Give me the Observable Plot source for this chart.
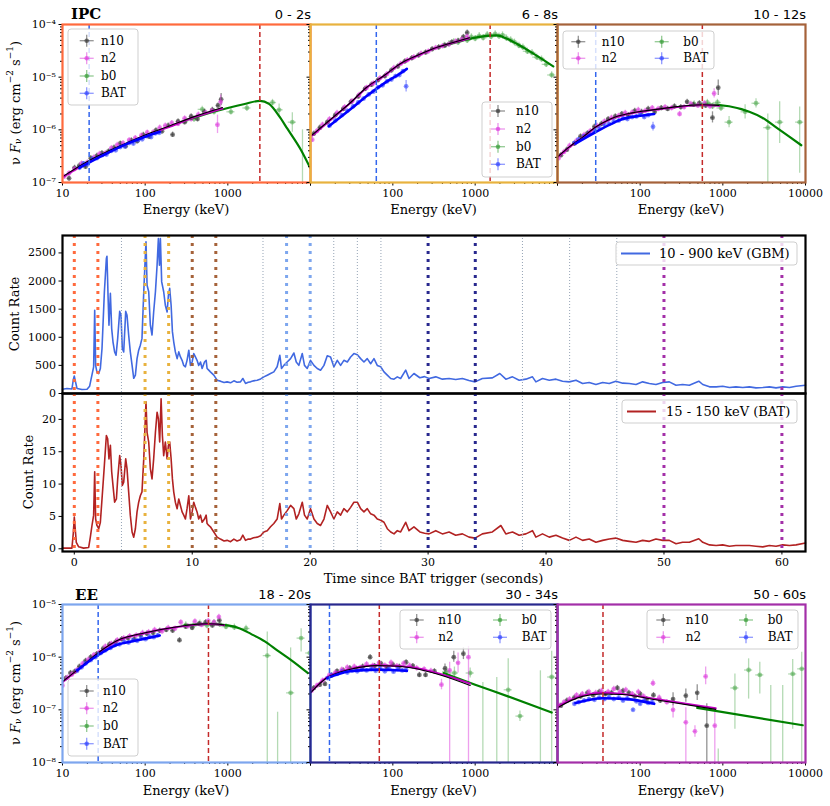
<!DOCTYPE html>
<html><head><meta charset="utf-8">
<script src="https://cdn.jsdelivr.net/npm/d3@7"></script>
<script src="https://cdn.jsdelivr.net/npm/@observablehq/plot@0.6"></script>
<style>
body{margin:0;background:#fff;}
#root{position:relative;width:830px;height:806px;overflow:hidden;font-family:"DejaVu Serif",serif;}
#root svg{position:absolute;overflow:visible;}
</style></head><body><div id="root"></div>
<script>
// ---------- light curves (time s, count rate) ----------
const gbmCurve = [[-1,75],[-0.62,89],[-0.2,80],[-0.08,250],[0,310],[0.11,200],[0.23,90],[0.65,70],[1.08,75],[1.3,130],[1.5,330],[1.64,475],[1.73,1480],[1.81,500],[1.92,380],[2.07,355],[2.21,445],[2.35,800],[2.55,1800],[2.72,2400],[2.77,2440],[2.86,1750],[2.94,1215],[3.06,1780],[3.17,1155],[3.28,920],[3.42,740],[3.54,680],[3.68,980],[3.85,1460],[3.96,1390],[4.07,800],[4.19,740],[4.36,1460],[4.47,1390],[4.61,1040],[4.75,740],[4.9,500],[5.04,270],[5.18,326],[5.32,620],[5.46,770],[5.6,860],[5.74,980],[5.89,1810],[6.0,2340],[6.08,2700],[6.17,1925],[6.31,1810],[6.45,1215],[6.59,1040],[6.73,1450],[6.88,1810],[7.02,2280],[7.13,2755],[7.22,2280],[7.3,2755],[7.41,1985],[7.58,1810],[7.72,1570],[7.87,1450],[7.98,1750],[8.09,1870],[8.21,1570],[8.32,1100],[8.43,920],[8.57,740],[8.72,620],[8.86,740],[9.0,650],[9.14,590],[9.28,500],[9.42,475],[9.56,590],[9.71,770],[9.85,500],[9.99,560],[10.13,710],[10.27,650],[10.41,590],[10.55,500],[10.7,560],[10.84,445],[11.04,560],[11.18,590],[11.26,445],[11.4,415],[11.54,385],[11.83,326],[12.11,237],[12.39,220],[12.7,195],[12.96,207],[13.25,190],[13.53,225],[13.8,200],[14.09,207],[14.29,267],[14.52,178],[14.75,200],[14.94,207],[15.2,225],[15.51,237],[15.8,260],[16.07,296],[16.36,326],[16.64,356],[16.92,385],[17.2,475],[17.43,680],[17.57,445],[17.77,500],[18.05,560],[18.34,620],[18.62,720],[18.82,560],[19.04,500],[19.33,710],[19.52,500],[19.75,445],[20.03,590],[20.32,500],[20.6,445],[20.88,415],[21.17,500],[21.45,670],[21.73,650],[22.01,475],[22.3,590],[22.58,500],[22.86,590],[23.15,560],[23.43,650],[23.71,710],[24.0,690],[24.28,620],[24.56,560],[24.84,620],[25.13,530],[25.41,620],[25.69,500],[25.98,475],[26.26,385],[26.54,326],[26.83,267],[27.11,255],[27.39,296],[27.67,267],[28.1,415],[28.38,267],[28.8,356],[29.3,280],[29.7,300],[30.08,267],[30.65,296],[31.21,255],[31.78,267],[32.34,249],[32.91,267],[33.47,231],[33.98,207],[34.6,267],[35.45,278],[36.08,356],[36.59,255],[37.16,296],[37.72,237],[38.29,255],[38.85,296],[39.14,207],[39.7,267],[40.27,237],[40.84,255],[41.4,219],[41.97,207],[42.54,237],[43.1,178],[43.66,196],[44.23,160],[44.8,196],[45.36,178],[45.92,219],[46.5,184],[47.06,178],[47.63,160],[48.19,207],[48.76,178],[49.32,160],[49.89,196],[50.45,207],[51.02,148],[51.58,160],[52.15,148],[52.95,219],[53.29,160],[53.86,118],[54.42,118],[54.98,130],[55.55,107],[56.1,118],[56.68,107],[57.24,118],[57.8,100],[58.38,107],[58.94,118],[59.5,100],[60.07,118],[60.64,107],[61.2,130],[62,148]];
const batCurve = [[-1,0.1],[-0.2,0.1],[-0.08,2.5],[0,4.9],[0.17,1.0],[0.37,0.3],[0.79,0.1],[1.22,0.2],[1.36,1.8],[1.5,3.6],[1.64,5.2],[1.73,11.9],[1.81,4.6],[1.92,3.6],[2.07,3.1],[2.21,4.1],[2.35,7.7],[2.55,12.9],[2.72,17.5],[2.83,17.0],[2.94,13.9],[3.06,16.0],[3.17,11.9],[3.28,9.8],[3.42,7.2],[3.57,7.7],[3.68,10.8],[3.85,14.4],[3.96,12.9],[4.07,9.8],[4.19,10.3],[4.36,13.9],[4.47,12.4],[4.61,8.8],[4.75,5.2],[4.9,2.6],[5.04,1.8],[5.18,3.1],[5.32,5.7],[5.46,7.2],[5.6,8.2],[5.74,8.8],[5.89,13.9],[6.0,19.1],[6.08,22.7],[6.17,18.0],[6.31,16.5],[6.45,12.4],[6.59,10.8],[6.73,13.9],[6.88,18.0],[7.02,21.1],[7.13,20.1],[7.24,16.5],[7.36,23.2],[7.47,17.5],[7.58,14.4],[7.72,16.5],[7.87,13.9],[7.98,16.0],[8.09,16.5],[8.21,13.9],[8.32,10.8],[8.43,8.8],[8.57,7.2],[8.72,6.2],[8.86,7.7],[9.0,6.7],[9.14,5.7],[9.28,5.2],[9.42,4.6],[9.56,6.2],[9.71,8.2],[9.85,4.6],[9.99,5.7],[10.13,7.2],[10.27,6.4],[10.41,5.7],[10.55,4.6],[10.7,5.2],[10.84,4.1],[11.04,4.6],[11.18,5.2],[11.26,3.9],[11.4,3.6],[11.54,3.4],[11.83,2.6],[12.11,1.8],[12.39,1.5],[12.7,1.2],[12.96,1.3],[13.25,1.1],[13.53,1.5],[13.8,1.2],[14.09,1.4],[14.29,2.1],[14.52,1.3],[14.75,1.5],[14.94,1.5],[15.2,1.7],[15.51,1.8],[15.8,2.0],[16.07,2.6],[16.36,2.8],[16.64,3.4],[16.92,3.9],[17.2,4.6],[17.43,7.0],[17.57,4.6],[17.77,5.2],[18.05,5.9],[18.34,6.7],[18.62,6.2],[18.82,4.6],[19.04,5.4],[19.33,7.2],[19.52,5.2],[19.75,4.6],[20.03,6.2],[20.32,4.6],[20.6,3.9],[20.88,3.6],[21.17,4.6],[21.45,6.7],[21.73,5.7],[22.01,4.6],[22.3,5.7],[22.58,5.2],[22.86,6.2],[23.15,5.7],[23.43,6.4],[23.71,7.2],[24.0,7.2],[24.28,6.2],[24.56,5.7],[24.84,6.2],[25.13,5.4],[25.41,5.2],[25.69,4.6],[25.98,4.4],[26.26,4.1],[26.54,3.1],[26.83,2.6],[27.11,2.3],[27.39,2.8],[27.67,2.6],[28.1,4.1],[28.38,2.8],[28.8,3.4],[29.3,2.6],[29.7,2.4],[30.08,2.3],[30.65,2.8],[31.21,2.3],[31.78,2.6],[32.34,2.1],[32.91,2.3],[33.47,1.8],[33.98,1.65],[34.6,2.3],[35.45,2.6],[36.17,3.6],[36.59,2.3],[37.16,2.6],[37.72,2.1],[38.29,2.3],[38.85,2.8],[39.14,1.8],[39.7,2.3],[40.27,1.8],[40.84,2.1],[41.4,1.65],[41.97,1.3],[42.54,1.8],[43.1,1.3],[43.66,1.5],[44.23,1.0],[44.8,1.3],[45.36,1.5],[45.92,1.65],[46.5,1.3],[47.06,1.15],[47.63,1.0],[48.19,1.3],[48.76,1.15],[49.32,1.5],[49.89,1.3],[50.45,1.3],[51.02,0.77],[51.58,1.0],[52.15,1.0],[52.95,1.55],[53.29,1.0],[53.86,0.6],[54.42,0.5],[54.98,0.6],[55.55,0.4],[56.1,0.5],[56.68,0.5],[57.24,0.5],[57.8,0.4],[58.38,0.3],[58.94,0.5],[59.5,0.4],[60.07,0.6],[60.64,0.5],[61.2,0.6],[62,0.9]];

// interval boundaries (s)
const intervalTimes  = [0, 2, 6, 8, 10, 12, 18, 20, 30, 34, 50, 60];
const intervalColors = ["#FF6A3D","#FF6A3D","#E8B23E","#E8B23E","#A5623A","#A5623A","#7DA6EE","#7DA6EE","#28288E","#28288E","#A32FA8","#A32FA8"];
const otherTimes = [4, 16, 22, 24, 26, 38, 42, 46];
const gbmTicks = [0, 500, 1000, 1500, 2000, 2500];
const batTicks = [0, 5, 10, 15, 20];
const timeTicks = [0, 10, 20, 30, 40, 50, 60];

// ---------- spectra: [E keV, nuFnu] or [E, nuFnu, low, high] ----------
const ipc02_n10 = [[12,1.2e-7],[14,1.9e-7],[16,2.1e-7],[19,2.0e-7],[22,2.9e-7],[26,3.2e-7],[30,3.6e-7],[36,3.9e-7],[42,4.6e-7],[50,5.5e-7],[58,4.9e-7],[68,6.3e-7],[80,6.1e-7],[95,8.0e-7],[112,7.4e-7],[135,9.8e-7],[160,9.4e-7],[190,1.2e-6],[215,8.1e-7],[250,1.45e-6],[300,1.4e-6],[360,1.8e-6],[430,1.6e-6],[520,2.2e-6],[650,2.4e-6],[760,2.9e-6],[830,3.8e-6,2.9e-6,4.9e-6]];
const ipc02_n2 = [[10.5,1.3e-7],[12,1.5e-7],[14,1.8e-7],[17,2.3e-7],[20,2.4e-7],[24,3.0e-7],[28,3.5e-7],[33,3.6e-7],[39,4.5e-7],[46,5.2e-7],[54,5.6e-7],[64,6.4e-7],[76,7.0e-7],[90,7.8e-7],[106,8.9e-7],[125,9.0e-7],[150,1.1e-6],[175,1.2e-6],[210,1.35e-6],[250,1.3e-6],[300,1.65e-6],[360,1.6e-6],[440,1.95e-6],[540,2.1e-6],[640,2.3e-6],[750,1.25e-6,8.5e-7,1.9e-6],[820,3.4e-6,2.6e-6,4.6e-6]];
const ipc02_b0 = [[310,1.5e-6],[390,1.6e-6],[490,2.45e-6],[680,2.2e-6],[1090,2.2e-6],[1700,2.6e-6],[3470,3.3e-6],[4170,2.4e-6,1.7e-6,3.1e-6],[6030,1.4e-6,9e-7,2.1e-6],[8000,5e-8,1e-9,1.0e-6]];
const ipc02_bat = [[16,1.9e-7],[18,2.3e-7],[20,2.2e-7],[23,2.8e-7],[26,2.9e-7],[30,3.3e-7],[34,3.4e-7],[39,4.0e-7],[44,4.1e-7],[50,4.7e-7],[57,4.8e-7],[64,5.6e-7],[72,5.5e-7],[82,6.4e-7],[92,6.6e-7],[104,7.6e-7],[118,7.3e-7],[133,8.6e-7],[148,8.8e-7]];
const ipc02_mN10 = [[10.5,1.35e-7],[20,2.5e-7],[50,5.0e-7],[100,8.0e-7],[200,1.2e-6],[400,1.8e-6],[860,2.65e-6]];
const ipc02_mN2 = [[10.5,1.3e-7],[20,2.4e-7],[50,4.8e-7],[100,7.7e-7],[200,1.15e-6],[400,1.75e-6],[860,2.55e-6]];
const ipc02_mB0 = [[350,1.6e-6],[600,2.1e-6],[1000,2.6e-6],[1600,3.1e-6],[2450,3.55e-6],[3150,3.1e-6],[4200,1.8e-6],[5250,1.05e-6],[7700,4.1e-7],[9900,1.9e-7]];
const ipc02_mBAT = [[16,1.9e-7],[30,3.2e-7],[60,5.4e-7],[100,7.4e-7],[150,9.2e-7]];

const ipc68_n10 = [[11,8.5e-7],[13,1.1e-6],[16,1.4e-6],[20,1.9e-6],[25,2.5e-6],[31,3.4e-6],[38,4.3e-6],[46,6.0e-6],[55,7.2e-6],[66,8.8e-6],[80,1.05e-5],[96,1.35e-5],[115,1.6e-5],[140,2.0e-5],[170,2.3e-5],[205,2.6e-5],[250,2.95e-5],[300,3.4e-5],[360,3.7e-5],[430,4.0e-5],[520,4.6e-5],[620,4.9e-5],[720,5.8e-5],[800,7.0e-5]];
const ipc68_n2 = [[10.5,6.5e-7],[12,9.5e-7],[14,1.25e-6],[17,1.6e-6],[21,2.1e-6],[26,2.7e-6],[32,3.5e-6],[39,4.6e-6],[48,6.3e-6],[58,7.6e-6],[70,9.6e-6],[85,1.15e-5],[103,1.5e-5],[125,1.8e-5],[150,2.1e-5],[180,2.4e-5],[220,2.8e-5],[270,3.1e-5],[330,3.6e-5],[400,3.9e-5],[480,4.2e-5],[580,4.8e-5],[690,5.2e-5],[800,5.9e-5]];
const ipc68_b0 = [[420,4.0e-5],[480,4.3e-5],[550,4.7e-5],[620,4.6e-5],[700,5.3e-5],[800,5.0e-5],[900,5.8e-5],[1000,5.4e-5],[1120,6.1e-5],[1250,5.6e-5],[1400,6.4e-5],[1560,5.9e-5],[1750,6.6e-5],[1950,6.0e-5],[2150,6.3e-5],[2400,5.5e-5],[2700,5.1e-5],[3000,4.6e-5],[3400,4.0e-5],[3800,3.7e-5],[4300,3.1e-5],[4900,2.9e-5],[5600,2.4e-5],[6400,2.2e-5],[7300,1.75e-5],[8500,1.1e-5]];
const ipc68_bat = [[17,1.2e-6],[20,1.5e-6],[24,1.9e-6],[28,2.3e-6],[33,2.8e-6],[38,3.3e-6],[44,3.9e-6],[51,4.7e-6],[58,5.3e-6],[66,6.4e-6],[75,7.0e-6],[85,8.3e-6],[96,9.0e-6],[108,1.05e-5],[120,1.1e-5],[133,1.3e-5],[145,6.7e-6,5.2e-6,8.6e-6]];
const ipc68_mN10 = [[10.5,8.0e-7],[19,1.75e-6],[30,3.2e-6],[48.6,6.5e-6],[80,1.1e-5],[123,1.8e-5],[200,2.6e-5],[313,3.5e-5],[500,4.4e-5],[850,5.6e-5]];
const ipc68_mN2 = [[10.5,7.8e-7],[19,1.72e-6],[30,3.15e-6],[48.6,6.4e-6],[80,1.08e-5],[123,1.77e-5],[200,2.55e-5],[313,3.45e-5],[500,4.35e-5],[850,5.5e-5]];
const ipc68_mB0 = [[420,4.0e-5],[800,5.2e-5],[1300,6.0e-5],[1820,6.2e-5],[2400,5.4e-5],[3200,4.3e-5],[5100,2.8e-5],[8900,1.6e-5]];
const ipc68_mBAT = [[16.7,1.17e-6],[30,2.4e-6],[50,4.6e-6],[80,7.8e-6],[120,1.15e-5],[148,1.44e-5]];

const ipc1012_n10 = [[11,3.3e-7],[13,4.2e-7],[16,5.5e-7],[19,7.5e-7],[23,8.6e-7],[28,1.15e-6],[34,1.3e-6],[41,1.6e-6],[50,1.8e-6],[60,2.0e-6],[72,1.9e-6],[86,2.3e-6],[104,2.2e-6],[125,2.5e-6],[150,2.2e-6],[180,2.6e-6],[215,2.5e-6],[260,2.8e-6],[310,2.7e-6],[370,3.4e-6],[440,3.0e-6],[520,3.2e-6],[620,2.9e-6],[750,1.7e-6,1.35e-6,2.2e-6],[880,6.3e-6,4.5e-6,8.8e-6]];
const ipc1012_n2 = [[10.3,2.9e-7],[12,3.8e-7],[14,5.0e-7],[17,6.2e-7],[21,8.0e-7],[25,9.5e-7],[30,1.2e-6],[37,1.45e-6],[45,1.7e-6],[55,1.85e-6],[66,2.1e-6],[80,2.15e-6],[95,2.4e-6],[115,2.3e-6],[140,2.6e-6],[165,2.5e-6],[200,2.7e-6],[240,2.6e-6],[300,2.0e-6],[340,2.7e-6],[410,3.1e-6],[500,2.9e-6],[600,3.2e-6],[700,2.8e-6],[785,4.9e-6,4.0e-6,6.0e-6]];
const ipc1012_b0 = [[450,3.1e-6],[560,2.9e-6],[650,3.3e-6],[750,2.8e-6],[860,3.3e-6],[950,2.6e-6],[1190,1.4e-6,1.1e-6,1.8e-6],[1860,2.2e-6,1.6e-6,3.0e-6],[2520,3.2e-6,2.6e-6,3.9e-6],[3500,1.1e-6,1e-9,2.0e-6],[4870,1.4e-6,5.5e-7,3.4e-6],[8500,1.4e-6,1.5e-7,2.7e-6]];
const ipc1012_bat = [[16,5.6e-7],[18,6.6e-7],[21,7.6e-7],[24,8.6e-7],[28,9.5e-7],[32,1.1e-6],[37,1.25e-6],[42,1.3e-6],[48,1.45e-6],[55,1.5e-6],[62,1.65e-6],[70,1.6e-6],[80,1.75e-6],[90,1.8e-6],[100,2.0e-6],[112,1.75e-6],[125,1.9e-6],[143,1.15e-6,9.5e-7,1.4e-6]];
const ipc1012_mN10 = [[10,3.06e-7],[14,4.8e-7],[20,7.2e-7],[29,1.13e-6],[40,1.5e-6],[50,1.75e-6],[80,2.1e-6],[128,2.34e-6],[250,2.7e-6],[565,3.0e-6],[900,2.9e-6]];
const ipc1012_mN2 = [[10,3.0e-7],[14,4.7e-7],[20,7.1e-7],[29,1.12e-6],[40,1.48e-6],[50,1.72e-6],[80,2.08e-6],[128,2.32e-6],[250,2.65e-6],[565,2.95e-6],[900,2.85e-6]];
const ipc1012_mB0 = [[400,2.9e-6],[700,3.0e-6],[1190,2.8e-6],[2090,2.2e-6],[3000,1.7e-6],[4370,1.13e-6],[6300,7.5e-7],[8900,5.1e-7]];
const ipc1012_mBAT = [[16.5,5.5e-7],[29,9.1e-7],[45,1.3e-6],[61,1.6e-6],[100,1.85e-6],[148,2.0e-6]];

const ee1820_n10 = [[11,4.0e-7],[12.5,5.0e-7],[14,5.3e-7],[16,6.6e-7],[19,8.5e-7],[22,1.0e-6],[26,1.15e-6],[31,1.45e-6],[37,1.75e-6],[44,1.95e-6],[52,2.2e-6],[62,2.3e-6],[74,2.2e-6],[88,2.6e-6],[105,2.8e-6],[125,2.9e-6],[150,3.2e-6],[180,3.3e-6],[215,3.2e-6],[260,2.1e-6],[310,3.8e-6],[370,3.6e-6],[450,4.3e-6],[540,4.6e-6],[650,4.0e-6],[790,5.0e-6]];
const ee1820_n2 = [[10,2.9e-7],[11.5,4.1e-7],[13,4.7e-7],[15,5.7e-7],[17.5,7.5e-7],[20.5,9.0e-7],[24,1.1e-6],[28,1.25e-6],[33,1.6e-6],[39,1.8e-6],[46,2.1e-6],[55,2.3e-6],[65,2.5e-6],[78,2.6e-6],[93,2.9e-6],[110,3.0e-6],[130,3.3e-6],[160,3.1e-6],[190,3.6e-6],[230,3.5e-6],[270,4.6e-6],[330,3.9e-6],[400,4.8e-6],[480,4.1e-6],[580,4.9e-6],[680,4.6e-6],[780,5.8e-6]];
const ee1820_b0 = [[310,4.1e-6],[380,3.9e-6],[460,4.4e-6],[560,4.0e-6],[680,4.5e-6],[800,4.2e-6],[950,3.8e-6],[1200,3.7e-6],[1660,3.5e-6],[3000,1.07e-6,1e-9,3.0e-6],[4000,1e-9,1e-9,9e-8],[5750,2.1e-7,1e-9,1.5e-6],[7700,2.3e-6,1.25e-6,3.45e-6],[9800,1.2e-6,1e-9,3.5e-6]];
const ee1820_bat = [[15,5.5e-7],[17,6.4e-7],[19,7.6e-7],[22,8.8e-7],[25,1.0e-6],[29,1.2e-6],[33,1.35e-6],[38,1.5e-6],[43,1.7e-6],[49,1.75e-6],[56,1.95e-6],[63,1.9e-6],[71,2.1e-6],[80,2.05e-6],[90,2.3e-6],[101,2.2e-6],[113,2.45e-6],[127,2.4e-6],[142,2.6e-6]];
const ee1820_mN10 = [[10,3.43e-7],[16.5,6.4e-7],[27.6,1.24e-6],[46,2.07e-6],[100,2.9e-6],[224,3.7e-6],[565,4.3e-6],[900,4.1e-6]];
const ee1820_mN2 = [[10,3.35e-7],[16.5,6.3e-7],[27.6,1.22e-6],[46,2.04e-6],[100,2.88e-6],[224,3.65e-6],[565,4.25e-6],[900,4.05e-6]];
const ee1820_mB0 = [[300,4.0e-6],[565,4.3e-6],[1000,4.0e-6],[1400,3.5e-6],[1900,2.77e-6],[2800,2.0e-6],[4000,1.33e-6],[6000,8.5e-7],[9250,5.0e-7]];
const ee1820_mBAT = [[15,5.6e-7],[27,1.1e-6],[45,1.7e-6],[70,2.0e-6],[100,2.25e-6],[150,2.57e-6]];

const ee3034_n10 = [[11,2.6e-7],[13,3.0e-7],[15,3.1e-7],[18,4.5e-7],[21,5.4e-7],[25,5.6e-7],[30,6.2e-7],[36,6.0e-7],[43,6.6e-7],[53,1.0e-6],[60,6.8e-7],[72,7.5e-7],[85,6.4e-7],[100,7.2e-7],[120,6.6e-7],[145,8.0e-7],[175,6.8e-7],[210,4.6e-7],[250,4.6e-7],[320,5.4e-7],[430,6.1e-7,5.0e-7,7.4e-7],[550,1.0e-6,8.0e-7,1.3e-6],[720,1.16e-6,9e-7,1.5e-6]];
const ee3034_n2 = [[10.3,2.3e-7],[12,2.9e-7],[14,3.6e-7],[17,4.6e-7],[20,5.1e-7],[24,5.8e-7],[28,6.4e-7],[34,6.6e-7],[40,6.3e-7],[48,7.4e-7],[57,6.9e-7],[68,7.8e-7],[80,7.0e-7],[95,7.9e-7],[112,6.8e-7],[135,7.6e-7],[160,6.9e-7],[195,6.2e-7],[240,5.9e-7],[290,5.5e-7],[390,3.0e-7,2.4e-7,3.8e-7],[490,5.6e-7,1e-9,8e-7],[620,7.8e-7,5e-7,1.2e-6],[830,1.0e-6,1e-9,1.6e-6]];
const ee3034_b0 = [[450,5.3e-7,4.3e-7,6.5e-7],[560,5.0e-7,3.8e-7,6.5e-7],[870,5.0e-7,4.0e-7,6.2e-7],[1240,1e-9,1e-9,3.3e-7],[1830,1e-9,1e-9,4.1e-7],[2520,2.4e-7,1e-9,9.3e-7],[3500,7.6e-8,6e-8,9.5e-8],[6200,1e-9,1e-9,5.5e-7],[8500,4.2e-7,1e-9,1.3e-6]];
const ee3034_bat = [[16,4.0e-7],[18,4.6e-7],[21,4.8e-7],[24,5.3e-7],[28,5.1e-7],[32,5.6e-7],[37,5.4e-7],[42,5.9e-7],[48,5.6e-7],[55,6.0e-7],[62,5.5e-7],[70,6.2e-7],[80,5.4e-7],[90,6.1e-7],[102,5.3e-7],[115,6.0e-7],[130,5.6e-7],[145,5.8e-7]];
const ee3034_mN10 = [[10,2.1e-7],[16,4.1e-7],[22,5.1e-7],[30.5,5.9e-7],[64,6.9e-7],[100,6.8e-7],[164,6.3e-7],[377,4.6e-7],[870,2.9e-7]];
const ee3034_mN2 = [[10,2.15e-7],[16,4.2e-7],[22,5.2e-7],[30.5,6.0e-7],[64,7.0e-7],[100,6.9e-7],[164,6.5e-7],[377,4.8e-7],[870,3.15e-7]];
const ee3034_mB0 = [[413,5.0e-7],[1000,3.0e-7],[2500,1.8e-7],[8500,8.9e-8]];
const ee3034_mBAT = [[16,4.0e-7],[30,5.4e-7],[64,5.8e-7],[100,5.7e-7],[148,5.5e-7]];

const ee5060_n10 = [[11,1.2e-7],[13,1.5e-7],[16,1.7e-7],[19,1.8e-7],[23,2.1e-7],[27,1.9e-7],[32,2.2e-7],[38,2.0e-7],[45,2.1e-7],[53,2.6e-7],[62,2.3e-7],[73,2.1e-7],[86,1.8e-7],[100,2.0e-7],[120,1.6e-7],[145,1.9e-7],[175,1.5e-7],[250,1.6e-7,1.2e-7,2.1e-7],[357,1.86e-7,1.4e-7,2.5e-7],[490,2.1e-7,1.5e-7,3.0e-7],[640,5e-8,1e-9,1.3e-7]];
const ee5060_n2 = [[10.5,1.2e-7],[12,1.4e-7],[14,1.6e-7],[17,1.9e-7],[20,2.0e-7],[24,2.2e-7],[29,2.1e-7],[34,2.3e-7],[41,2.2e-7],[48,2.5e-7],[57,2.2e-7],[67,2.4e-7],[80,2.0e-7],[95,2.2e-7],[110,1.8e-7],[143,3.2e-7,2.8e-7,3.7e-7],[170,1.7e-7],[210,1.4e-7],[250,1.0e-7,7e-8,1.4e-7],[357,5.8e-8,1e-9,1.1e-7],[460,3.9e-8,3e-8,5e-8],[620,4.3e-7,3e-7,6.5e-7],[800,5.0e-8,1e-9,9e-8]];
const ee5060_b0 = [[880,1e-9,1e-9,1.8e-8],[1400,2.6e-7,4.3e-8,4.8e-7],[2050,5.7e-7,1.6e-7,9.3e-7],[2800,4.6e-7,2e-7,8e-7],[3800,1e-9,1e-9,2.9e-7],[5300,1e-9,1e-9,2.9e-7],[7000,4.8e-7,4.3e-8,9e-7],[9000,6.0e-7,1e-9,1.24e-6]];
const ee5060_bat = [[16,1.3e-7],[18,1.4e-7],[21,1.5e-7],[24,1.6e-7],[28,1.55e-7],[32,1.7e-7],[37,1.6e-7],[42,1.75e-7],[48,1.6e-7],[55,1.7e-7],[62,1.5e-7],[70,1.65e-7],[82,1.0e-7],[90,1.45e-7],[100,1.3e-7],[112,1.5e-7],[125,1.35e-7],[140,1.4e-7]];
const ee5060_mN10 = [[10,1.1e-7],[20,1.8e-7],[35,2.0e-7],[61,1.95e-7],[154,1.55e-7],[820,1.02e-7]];
const ee5060_mN2 = [[10,1.16e-7],[20,1.86e-7],[35,2.1e-7],[61,2.0e-7],[154,1.6e-7],[820,1.07e-7]];
const ee5060_mB0 = [[490,1.09e-7],[9250,5.1e-8]];
const ee5060_mBAT = [[16.5,1.35e-7],[35,1.66e-7],[70,1.6e-7],[148,1.3e-7]];

const periodLabels = ["0 - 2s", "6 - 8s", "10 - 12s", "18 - 20s", "30 - 34s", "50 - 60s"];
const dashBlueE = [21, 63, 29, 27, 17, null];
const dashRedE  = [2440, 1520, 565, 583, 68.5, 35.5];
const energyTicks = [10, 100, 1000, 10000];
const detectorNames = ["n10", "n2", "b0", "BAT"];

// ---------- styling / layout ----------
const C = {n10:"#3a3a3a", n2:"#dd3fdd", b0:"#3a9e3a", bat:"#3344ff"};
const panelFrames = ["#FF6A3D","#E8B23E","#A5623A","#7DA6EE","#28288E","#A32FA8"];
const COLS = [{l:62,r:310,lab:[10,100,1000]},{l:310,r:557,lab:[100,1000]},{l:557,r:805,lab:[100,1000,10000]}];
const ROWS = [{t:24,dom:[1e-7,1e-4]},{t:604,dom:[1e-8,1e-5]}];
const FH = 158;
const root = document.getElementById("root");
const SUP = {"-":"⁻","0":"⁰","1":"¹","2":"²","3":"³","4":"⁴","5":"⁵","6":"⁶","7":"⁷","8":"⁸","9":"⁹"};
const pow10 = v => "10" + String(Math.round(Math.log10(v))).split("").map(c => SUP[c]).join("");

function fixTickFont(chart) {
  d3.select(chart).selectAll('g[aria-label$="tick label"]').attr("font-size", 11).attr("font-family", "DejaVu Serif")
    .selectAll("text").attr("font-size", null);
}
function detMarks(rows, color, yf, xf, op) {
  const d = rows.map(r => ({E:r[0], F:r[1], lo: r.length > 2 ? r[2] : r[1]/yf, hi: r.length > 2 ? r[3] : r[1]*yf}));
  return [
    Plot.ruleY(d, {y:"F", x1:r => r.E/xf, x2:r => r.E*xf, stroke:color, strokeOpacity:op, strokeWidth:1.3, clip:true}),
    Plot.ruleX(d, {x:"E", y1:"lo", y2:"hi", stroke:color, strokeOpacity:op, strokeWidth:1.3, clip:true}),
    Plot.dot(d, {x:"E", y:"F", r:2.4, fill:color, fillOpacity:Math.min(1, op + 0.1), stroke:"none", clip:true})
  ];
}
function modelLine(data, color, w) {
  return Plot.line(data, {x:d => d[0], y:d => d[1], stroke:color, strokeWidth:w, curve:"monotone-x", clip:true});
}

const spectra = [
  [ipc02_n10, ipc02_n2, ipc02_b0, ipc02_bat, ipc02_mN10, ipc02_mN2, ipc02_mB0, ipc02_mBAT],
  [ipc68_n10, ipc68_n2, ipc68_b0, ipc68_bat, ipc68_mN10, ipc68_mN2, ipc68_mB0, ipc68_mBAT],
  [ipc1012_n10, ipc1012_n2, ipc1012_b0, ipc1012_bat, ipc1012_mN10, ipc1012_mN2, ipc1012_mB0, ipc1012_mBAT],
  [ee1820_n10, ee1820_n2, ee1820_b0, ee1820_bat, ee1820_mN10, ee1820_mN2, ee1820_mB0, ee1820_mBAT],
  [ee3034_n10, ee3034_n2, ee3034_b0, ee3034_bat, ee3034_mN10, ee3034_mN2, ee3034_mB0, ee3034_mBAT],
  [ee5060_n10, ee5060_n2, ee5060_b0, ee5060_bat, ee5060_mN10, ee5060_mN2, ee5060_mB0, ee5060_mBAT]
];

spectra.forEach((s, i) => {
  const col = COLS[i % 3], row = ROWS[Math.floor(i / 3)];
  const mL = 40, mR = 20, mT = 5, mB = 40;
  const w = col.r - col.l;
  const [lo, hi] = row.dom;
  const yMajor = [], yMinor = [];
  for (let e = Math.round(Math.log10(lo)); e <= Math.round(Math.log10(hi)); e++) {
    yMajor.push(Math.pow(10, e));
    if (e < Math.round(Math.log10(hi))) for (let k = 2; k <= 9; k++) yMinor.push(k * Math.pow(10, e));
  }
  const xMinor = [];
  for (let e = 1; e < 4; e++) for (let k = 2; k <= 9; k++) xMinor.push(k * Math.pow(10, e));
  const marks = [
    ...detMarks(s[2], C.b0, 1.15, 1.12, 0.38),
    ...detMarks(s[0], C.n10, 1.12, 1.045, 0.55),
    ...detMarks(s[1], C.n2, 1.12, 1.045, 0.5),
    ...detMarks(s[3], C.bat, 1.08, 1.025, 0.5),
    modelLine(s[6], "#008000", 2.2),
    modelLine(s[5], "#c000c0", 2),
    modelLine(s[4], "#000000", 1.1),
    modelLine(s[7], "#0000ff", 2.6)
  ];
  if (dashBlueE[i]) marks.push(Plot.ruleX([dashBlueE[i]], {stroke:"#3366ee", strokeWidth:1.5, strokeDasharray:"5,3"}));
  if (dashRedE[i]) marks.push(Plot.ruleX([dashRedE[i]], {stroke:"#c42a2a", strokeWidth:1.5, strokeDasharray:"5,3"}));
  marks.push(
    Plot.axisX({ticks:energyTicks, tickFormat:d => col.lab.includes(d) ? String(d) : "", tickSize:3.5, tickPadding:3, label:null}),
    Plot.axisX({ticks:xMinor, tickFormat:() => "", tickSize:2, label:null}),
    Plot.axisY({ticks:yMajor, tickFormat:d => (i % 3 === 0 ? pow10(d) : ""), tickSize:3.5, tickPadding:3, label:null}),
    Plot.axisY({ticks:yMinor, tickFormat:() => "", tickSize:2, label:null}),
    Plot.frame({stroke:panelFrames[i], strokeWidth:2.2})
  );
  const chart = Plot.plot({
    width: w + mL + mR, height: FH + mT + mB,
    marginLeft: mL, marginRight: mR, marginTop: mT, marginBottom: mB,
    style: {background:"transparent", overflow:"visible", fontFamily:"DejaVu Serif", fontSize:"11px", color:"black"},
    x: {type:"log", domain:[10, 10000], axis:null},
    y: {type:"log", domain:row.dom, axis:null},
    marks
  });
  fixTickFont(chart);
  chart.style.left = (col.l - mL) + "px";
  chart.style.top = (row.t - mT) + "px";
  root.appendChild(chart);
});

// ---------- light curves ----------
function lightCurve(data, color, dom, ticks, top, mT, mB, showX) {
  const marks = [
    Plot.line(data, {x:d => d[0], y:d => d[1], stroke:color, strokeWidth:1.6}),
    Plot.ruleX(otherTimes, {stroke:"#95a3b5", strokeWidth:1, strokeDasharray:"1,2"}),
    ...intervalTimes.map((t, k) => Plot.ruleX([t], {stroke:intervalColors[k], strokeWidth:3, strokeDasharray:"3,5"})),
    Plot.axisY({ticks, tickFormat:d3.format("d"), tickSize:3.5, tickPadding:3, label:null}),
    Plot.frame({stroke:"black", strokeWidth:2.2})
  ];
  if (showX) marks.push(Plot.axisX({ticks:timeTicks, tickFormat:d3.format("d"), tickSize:3.5, tickPadding:3, label:null}));
  const chart = Plot.plot({
    width: 830, height: FH + mT + mB,
    marginLeft: 62, marginRight: 25, marginTop: mT, marginBottom: mB,
    style: {background:"transparent", overflow:"visible", fontFamily:"DejaVu Serif", fontSize:"11px", color:"black"},
    x: {domain:[-1, 62], axis:null},
    y: {domain:dom, axis:null},
    marks
  });
  fixTickFont(chart);
  chart.style.left = "0px";
  chart.style.top = (top - mT) + "px";
  root.appendChild(chart);
}
lightCurve(gbmCurve, "#4169E1", [0, 2810], gbmTicks, 235, 10, 0, false);
lightCurve(batCurve, "#B22222", [-0.42, 24.0], batTicks, 393, 0, 30, true);

// ---------- text overlay: titles, axis labels, legends ----------
const ov = d3.create("svg").attr("width", 830).attr("height", 806)
  .style("left", "0px").style("top", "0px").style("font-family", "DejaVu Serif");
const T = (x, y, s, o = {}) => ov.append("text").attr("x", x).attr("y", y).text(s)
  .attr("font-size", o.size || 13).attr("text-anchor", o.anchor || "start")
  .attr("font-weight", o.weight || "normal").attr("font-family", o.family || "DejaVu Serif").attr("fill", "black");

T(71, 18.5, "IPC", {size:15, weight:"bold"});
T(75, 599.5, "EE", {size:15, weight:"bold"});
periodLabels.forEach((s, i) => {
  const col = COLS[i % 3];
  T(col.r + 1, i < 3 ? 18.5 : 598.5, s, {size:13, anchor:"end", family:"DejaVu Sans"});
});
COLS.forEach(c => { T((c.l + c.r) / 2, 214, "Energy (keV)", {anchor:"middle"}); T((c.l + c.r) / 2, 795, "Energy (keV)", {anchor:"middle"}); });
T(433.5, 583, "Time since BAT trigger (seconds)", {anchor:"middle"});

function rotLabel(cx, cy, build) {
  const t = ov.append("text").attr("transform", `translate(${cx},${cy}) rotate(-90)`)
    .attr("text-anchor", "middle").attr("dominant-baseline", "central").attr("font-size", 13).attr("fill", "black");
  build(t);
}
rotLabel(14.5, 314, t => t.text("Count Rate"));
rotLabel(28, 472, t => t.text("Count Rate"));
[103, 683].forEach(cy => rotLabel(15, cy, t => {
  t.append("tspan").text("ν ");
  t.append("tspan").attr("font-style", "italic").text("F");
  t.append("tspan").attr("font-size", 9).attr("dy", 3).text("ν");
  t.append("tspan").attr("dy", -3).text(" (erg cm");
  t.append("tspan").attr("font-size", 9).attr("dy", -5).text("−2");
  t.append("tspan").attr("dy", 5).text(" s");
  t.append("tspan").attr("font-size", 9).attr("dy", -5).text("−1");
  t.append("tspan").attr("dy", 5).text(")");
}));

function box(x, y, w, h) {
  ov.append("rect").attr("x", x).attr("y", y).attr("width", w).attr("height", h).attr("rx", 3)
    .attr("fill", "white").attr("fill-opacity", 0.8).attr("stroke", "#cfcfcf").attr("stroke-width", 1);
}
function errEntry(cx, cy, tx, name, color) {
  const g = ov.append("g").attr("stroke", color).attr("stroke-opacity", 0.55).attr("stroke-width", 1.3);
  g.append("line").attr("x1", cx - 7).attr("x2", cx + 7).attr("y1", cy).attr("y2", cy);
  g.append("line").attr("x1", cx).attr("x2", cx).attr("y1", cy - 6).attr("y2", cy + 6);
  ov.append("circle").attr("cx", cx).attr("cy", cy).attr("r", 2.3).attr("fill", color).attr("fill-opacity", 0.7);
  ov.append("text").attr("x", tx).attr("y", cy).attr("dominant-baseline", "central").attr("font-size", 12).attr("fill", "black").text(name);
}
const detColors = [C.n10, C.n2, C.b0, C.bat];
function legend1(x, y, w, h, rows, mx, tx) {
  box(x, y, w, h);
  detectorNames.forEach((n, k) => errEntry(mx, rows[k], tx, n, detColors[k]));
}
function legend2(x, y, w, h, rows, mxs, txs) {
  box(x, y, w, h);
  detectorNames.forEach((n, k) => errEntry(mxs[Math.floor(k / 2)], rows[k % 2], txs[Math.floor(k / 2)], n, detColors[k]));
}
legend1(68, 29, 70, 76, [40.7, 58.3, 76, 93.3], 86.7, 101);
legend1(482, 102, 70, 75, [111, 129, 146.7, 164.3], 498, 516);
legend2(563, 31, 151, 38, [41.7, 58.3], [578.3, 661.7], [601.7, 683.3]);
legend1(68, 679, 70, 77, [691, 708.3, 726, 743.7], 86.7, 103);
legend2(400, 610, 151, 39, [620, 637.3], [416.7, 500], [438.3, 521.7]);
legend2(647, 610, 151, 39, [620, 637.3], [663.3, 746], [685.7, 767.7]);

function lcLegend(x, y, w, h, color, label, lx1, lx2, tx) {
  box(x, y, w, h);
  const cy = y + h / 2;
  ov.append("line").attr("x1", lx1).attr("x2", lx2).attr("y1", cy).attr("y2", cy).attr("stroke", color).attr("stroke-width", 2);
  ov.append("text").attr("x", tx).attr("y", cy).attr("dominant-baseline", "central").attr("font-size", 13).attr("fill", "black").text(label);
}
lcLegend(616, 242, 181, 23, "#4169E1", "10 - 900 keV (GBM)", 621, 650, 659);
lcLegend(622, 400, 175, 23, "#B22222", "15 - 150 keV (BAT)", 627, 656, 666);

root.appendChild(ov.node());
</script></body></html>
